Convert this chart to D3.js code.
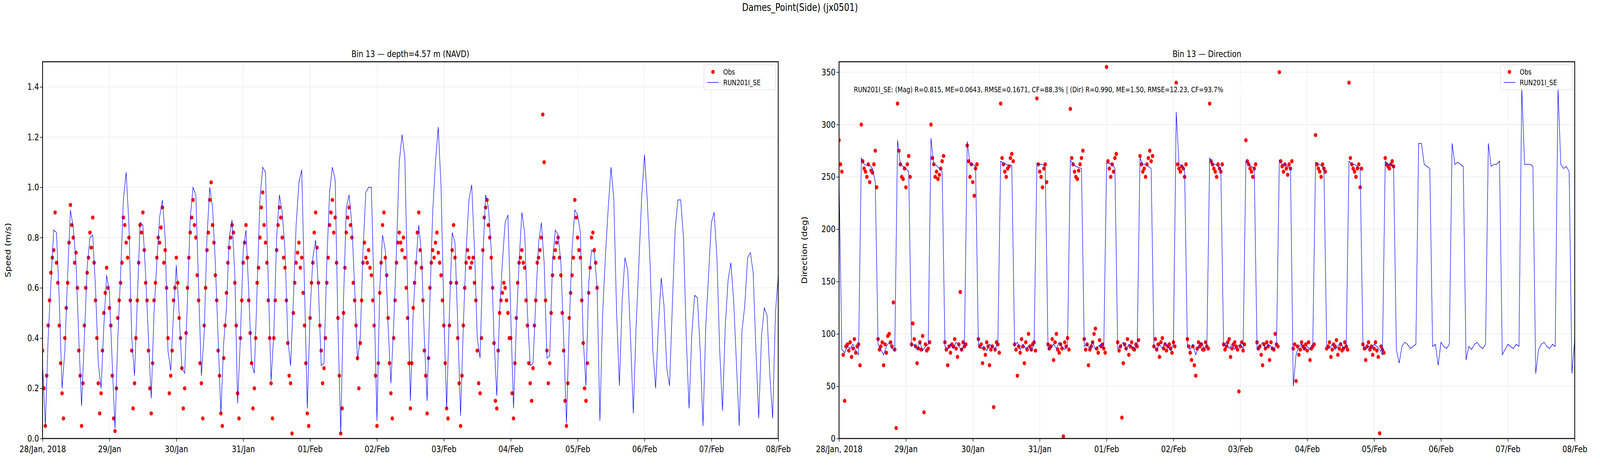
<!DOCTYPE html>
<html>
<head>
<meta charset="utf-8">
<script src="https://cdn.jsdelivr.net/npm/d3@7"></script>
<style>
  html, body { margin: 0; padding: 0; overflow: hidden; background: #fff; }
  svg { display: block; width: 100vw; height: 100vh; }
  text { font-family: "DejaVu Sans", sans-serif; }
</style>
</head>
<body>
<svg id="chart" viewBox="0 0 5000 1200" preserveAspectRatio="none"></svg>
<script>
// hours since 28/Jan 2018 00:00; model hourly, obs every 30 min
const dayLabels = ["28/Jan, 2018","29/Jan","30/Jan","31/Jan","01/Feb","02/Feb","03/Feb","04/Feb","05/Feb","06/Feb","07/Feb","08/Feb"];

const modelSpeed = [
  .30,.05,.40,.62,.83,.82,.55,.20,.35,.65,.91,.84,.70,.40,.13,.40,.68,.80,.81,.60,.30,.20,.45,.65,
  .58,.30,.04,.40,.65,.95,1.06,.85,.40,.25,.55,.86,.85,.65,.40,.16,.50,.70,.88,.95,.80,.35,.27,.50,
  .69,.50,.28,.26,.55,.88,1.00,.97,.60,.25,.42,.80,1.00,.92,.70,.40,.10,.38,.52,.80,.87,.65,.14,.40,
  .75,.83,.58,.30,.26,.60,.95,1.08,1.06,.62,.23,.42,.80,.97,.90,.75,.40,.29,.55,.85,1.02,1.07,.60,.12,
  .50,.72,.79,.60,.29,.30,.70,.98,1.08,1.03,.45,.02,.55,.92,.97,.85,.60,.31,.40,.75,.98,1.00,1.00,.55,
  .07,.60,.81,.75,.45,.22,.45,.75,1.10,1.21,1.12,.60,.15,.50,.70,.85,.73,.40,.15,.55,.90,1.10,1.24,1.00,
  .50,.12,.50,.82,.78,.45,.09,.45,.75,.95,1.01,.75,.40,.32,.72,.97,.92,.75,.40,.17,.50,.70,.86,.89,
  .50,.12,.45,.70,.90,.82,.50,.29,.30,.55,.78,.86,.70,.32,.33,.70,.83,.81,.70,.40,.06,.45,.75,.91,
  .89,.82,.40,.21,.62,.75,.74,.60,.07,.50,.73,.92,1.08,.95,.50,.21,.55,.72,.67,.40,.10,.45,.70,.96,
  1.13,.95,.70,.35,.20,.45,.64,.53,.28,.21,.53,.83,.95,.95,.80,.40,.12,.42,.57,.56,.35,.05,.45,.65,
  .86,.90,.72,.35,.11,.45,.63,.70,.55,.30,.05,.43,.53,.72,.74,.66,.35,.08,.41,.52,.49,.25,.08,.50,.65
];

const obsSpeed = [
  .35,.20,.05,.25,.45,.55,.66,.72,.75,.90,.70,.62, .45,.30,.18,.08,.40,.52,.62,.78,.93,.85,.80,.70,
  .74,.60,.35,.25,.05,.22,.45,.60,.66,.72,.82,.76, .88,.70,.55,.40,.22,.10,.18,.35,.50,.58,.68,.60,
  .52,.45,.25,.08,.03,.20,.48,.55,.62,.70,.88,.85, .78,.72,.80,.55,.35,.12,.22,.40,.55,.70,.85,.82,
  .90,.75,.62,.55,.35,.20,.10,.30,.55,.62,.72,.80, .78,.84,.92,.70,.75,.60,.40,.18,.25,.35,.55,.60,
  .72,.62,.48,.40,.28,.12,.20,.42,.60,.72,.82,.88, .95,.85,.80,.65,.55,.30,.22,.08,.45,.60,.75,.82,
  .95,1.02,.85,.78,.65,.55,.35,.25,.10,.05,.32,.45, .58,.70,.76,.80,.85,.82,.62,.45,.18,.08,.40,.55,
  .70,.78,.85,.72,.55,.42,.30,.12,.20,.40,.62,.68, .80,.92,.98,.85,.78,.70,.55,.40,.22,.08,.40,.55,
  .75,.85,.92,.88,.80,.72,.68,.55,.38,.25,.22,.02, .50,.62,.70,.74,.78,.68,.72,.58,.45,.30,.10,.05,
  .48,.62,.70,.82,.90,.76,.62,.45,.35,.22,.28,.40, .62,.72,.85,.90,.95,.82,.88,.70,.48,.25,.02,.12,
  .50,.68,.82,.88,.92,.85,.80,.62,.55,.45,.32,.20, .38,.55,.70,.78,.72,.70,.75,.68,.65,.55,.45,.25,
  .05,.30,.58,.70,.85,.90,.72,.65,.48,.30,.18,.08, .40,.55,.70,.78,.82,.78,.75,.80,.72,.60,.48,.30,
  .12,.30,.52,.62,.70,.82,.90,.75,.68,.55,.35,.25, .10,.32,.60,.70,.75,.72,.78,.82,.74,.70,.65,.55,
  .45,.30,.12,.08,.45,.62,.75,.85,.72,.62,.40,.22, .05,.25,.45,.60,.70,.75,.72,.68,.70,.72,.62,.55,
  .35,.22,.18,.40,.75,.88,.92,.95,.85,.80,.72,.60, .38,.15,.12,.35,.50,.55,.58,.62,.60,.55,.50,.40,
  .40,.18,.08,.30,.48,.62,.70,.72,.75,.70,.68,.55, .45,.30,.22,.15,.28,.45,.55,.70,.72,.75,.80,1.29,
  1.10,.55,.35,.22,.30,.50,.65,.72,.75,.78,.80,.72, .65,.50,.35,.15,.05,.22,.48,.58,.65,.72,.95,.88,
  .80,.75,.72,.55,.38,.20,.15,.30,.58,.68,.80,.82, .75,.70,.60
];

const modelDir = [
  250,85,82,88,86,90,84,80, 268,262,261,261,258,245, 90,85,80,88,92,86,84,
  285,262,260,258,255, 88,90,85,92,84,88,90, 287,262,261,258,255, 88,85,90,86,92,88,84,90,
  284,262,262,260, 90,86,88,84,90,88,85,92, 265,263,262,261,261, 88,92,85,90,86,88,84,90,
  263,262,262,260, 85,88,90,86,92,88,85,90, 266,262,260,259,258, 88,90,86,92,85,88,90,86,
  263,263,262,258, 86,88,92,85,90,88,86,90, 268,262,262,260,258, 88,85,90,86,92,88,84,90,
  312,262,260,258, 88,85,90,80,88,92,86,88, 268,262,262,260,258, 88,92,86,90,85,88,90,86,
  265,262,260,258, 85,88,92,86,90,88,85,90, 266,262,262,260,258, 50,80,88,90,86,88,85,90,
  264,262,261,258, 88,86,90,85,88,92,86,88, 265,262,262,260,258, 90,85,88,86,90,88,85,80,
  265,262,262,260, 85,72,88,92,90,86,88,90, 282,282,262,260,258, 88,90,70,92,88,86,90,
  282,262,264,262,260, 75,88,85,90,92,88,86,90, 282,260,262,262,265, 80,85,90,88,86,90,88,
  335,262,262,262,260, 62,85,90,92,88,86,90,88, 335,262,258,260,255, 62,95
];

const obsDir = [
  285,262,255,80,36,88,90,84,92,78,86,95,82,88,90,70,
  300,265,258,255,250,262,245,256,254,262,275,240,
  95,85,88,92,70,90,82,98,100,92,88,130,85,10,
  320,275,262,250,248,258,240,262,270,250,
  90,110,95,88,72,86,92,85,98,25,90,84,86,92,
  300,268,262,250,255,248,252,258,265,270,
  92,85,70,88,82,90,88,95,86,78,90,140,85,92,88,90,
  280,265,250,262,245,232,258,262,
  95,88,90,72,86,80,92,88,70,85,88,30,85,92,90,82,
  320,268,262,255,250,258,260,268,272,265,
  90,85,60,88,82,95,88,72,92,85,100,88,85,90,92,84,
  325,262,255,250,240,258,262,245,
  90,86,88,95,75,92,100,85,82,90,86,2,92,88,96,85,
  315,268,262,255,250,248,256,262,268,275,
  95,85,90,70,85,88,92,100,105,86,82,94,88,90,86,82,
  355,265,258,250,262,255,268,272,
  92,84,88,20,72,90,86,95,80,88,92,86,85,90,88,94,
  270,262,255,258,250,262,268,275,265,270,
  88,95,85,90,78,92,96,86,90,84,88,90,86,82,92,88,
  340,262,258,255,260,258,250,262,
  95,88,82,75,88,70,60,86,92,88,90,85,85,92,88,86,
  320,265,262,258,255,250,262,258,255,262,
  90,85,88,92,95,78,86,90,92,88,85,45,88,92,84,90,
  285,265,262,258,255,250,258,262,
  92,86,88,80,70,90,86,92,88,75,92,86,85,100,90,88,
  350,265,260,255,262,258,252,262,258,265,
  86,90,55,88,80,85,92,88,86,90,84,92,75,86,88,90,
  290,262,258,255,250,262,258,255,
  86,88,92,78,85,90,88,94,80,86,90,84,86,92,88,85,
  340,268,262,258,255,250,258,262,240,258,
  90,86,75,88,92,85,88,80,86,92,84,78,5,88,85,82,
  268,262,260,258,262,265,260
];

const svg = d3.select("#chart");
const W = 2299, H = 964, plotTop = 158;
const panels = [
  { left: 133, title: "Bin 13 \u2014 depth=4.57 m (NAVD)", ylab: "Speed (m/s)", ymax: 1.5,
    ticks: d3.range(0, 1.41, 0.2), fmt: d3.format(".1f"), model: modelSpeed, obs: obsSpeed },
  { left: 2622, title: "Bin 13 \u2014 Direction", ylab: "Direction (deg)", ymax: 360,
    ticks: d3.range(0, 351, 50), fmt: d3.format("d"), model: modelDir, obs: obsDir }
];

svg.append("text").attr("x", 2500).attr("y", 28).attr("text-anchor", "middle")
  .attr("font-size", 26).text("Dames_Point(Side) (jx0501)");

panels.forEach((p, pi) => {
  const x = d3.scaleLinear().domain([0, 264]).range([p.left, p.left + W]);
  const y = d3.scaleLinear().domain([0, p.ymax]).range([plotTop + H, plotTop]);
  const g = svg.append("g");

  // grid
  g.selectAll(".gx").data(d3.range(0, 265, 24)).join("line")
    .attr("x1", d => x(d)).attr("x2", d => x(d)).attr("y1", plotTop).attr("y2", plotTop + H)
    .attr("stroke", "#ebebeb").attr("stroke-width", 1.5);
  g.selectAll(".gy").data(p.ticks).join("line")
    .attr("x1", p.left).attr("x2", p.left + W).attr("y1", d => y(d)).attr("y2", d => y(d))
    .attr("stroke", "#ebebeb").attr("stroke-width", 1.5);

  const clip = "clip" + pi;
  svg.append("clipPath").attr("id", clip).append("rect")
    .attr("x", p.left).attr("y", plotTop).attr("width", W).attr("height", H);
  const plot = g.append("g").attr("clip-path", `url(#${clip})`);

  plot.selectAll("circle").data(p.obs).join("circle")
    .attr("cx", (d, i) => x(i * 0.5)).attr("cy", d => y(d)).attr("r", 5.3).attr("fill", "red");
  plot.append("path").datum(p.model)
    .attr("d", d3.line().x((d, i) => x(i)).y(d => y(d)))
    .attr("fill", "none").attr("stroke", "blue").attr("stroke-width", 1.5);

  // axes
  const xa = g.append("g").attr("transform", `translate(0,${plotTop + H})`)
    .call(d3.axisBottom(x).tickValues(d3.range(0, 265, 24)).tickFormat((d, i) => dayLabels[i]).tickSize(8));
  const ya = g.append("g").attr("transform", `translate(${p.left},0)`)
    .call(d3.axisLeft(y).tickValues(p.ticks).tickFormat(p.fmt).tickSize(8));
  [xa, ya].forEach(a => {
    a.selectAll("text").attr("font-size", 23).attr("font-family", "DejaVu Sans");
    a.selectAll("line").attr("stroke-width", 1.5);
    a.select(".domain").remove();
  });
  xa.selectAll("text").attr("dy", "1.05em");
  g.append("rect").attr("x", p.left).attr("y", plotTop).attr("width", W).attr("height", H)
    .attr("fill", "none").attr("stroke", "#000").attr("stroke-width", 2.5);

  g.append("text").attr("x", p.left + W / 2).attr("y", plotTop - 12).attr("text-anchor", "middle")
    .attr("font-size", 23).text(p.title);
  g.append("text").attr("transform", `translate(${p.left - 100},${plotTop + H / 2}) rotate(-90)`)
    .attr("text-anchor", "middle").attr("font-size", 23).text(p.ylab);

  // legend
  const lg = g.append("g").attr("transform", `translate(${p.left + W - 232},${plotTop + 8})`);
  lg.append("rect").attr("width", 224).attr("height", 64).attr("rx", 4)
    .attr("fill", "white").attr("fill-opacity", 0.8).attr("stroke", "#ccc");
  lg.append("circle").attr("cx", 28).attr("cy", 18).attr("r", 5.3).attr("fill", "red");
  lg.append("text").attr("x", 60).attr("y", 25).attr("font-size", 19).text("Obs");
  lg.append("line").attr("x1", 10).attr("x2", 46).attr("y1", 45).attr("y2", 45)
    .attr("stroke", "blue").attr("stroke-width", 1.5);
  lg.append("text").attr("x", 60).attr("y", 52).attr("font-size", 19).text("RUN201I_SE");
});

// stats annotation on direction panel
const ann = svg.append("g").attr("transform", "translate(2668,236)");
ann.append("rect").attr("x", -4).attr("y", -20).attr("width", 1360).attr("height", 28)
  .attr("fill", "white").attr("fill-opacity", 0.7);
ann.append("text").attr("font-size", 19)
  .text("RUN201I_SE: (Mag) R=0.815, ME=0.0643, RMSE=0.1671, CF=88.3% | (Dir) R=0.990, ME=1.50, RMSE=12.23, CF=93.7%");
</script>
</body>
</html>
